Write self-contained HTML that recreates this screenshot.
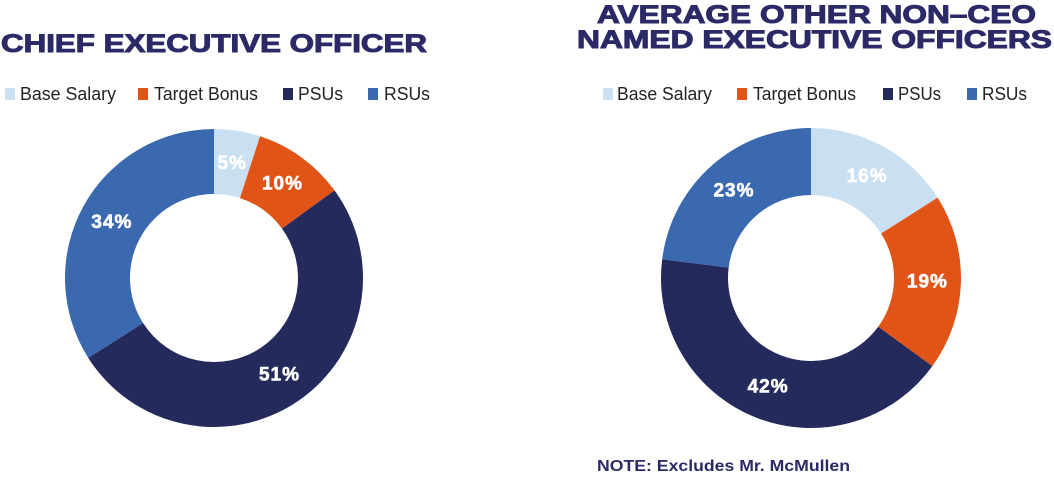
<!DOCTYPE html>
<html><head><meta charset="utf-8"><style>
body{margin:0;background:#fff;}
svg{display:block;font-family:"Liberation Sans",Arial,sans-serif;}
</style></head><body>
<svg width="1054" height="478" viewBox="0 0 1054 478">
<g id="titles" fill="#2b2a66" font-weight="900">
<text x="1" y="52" font-size="25" textLength="426" lengthAdjust="spacingAndGlyphs" stroke="#2b2a66" stroke-width="1">CHIEF EXECUTIVE OFFICER</text>
<text x="597" y="23" font-size="25" textLength="439" lengthAdjust="spacingAndGlyphs" stroke="#2b2a66" stroke-width="1">AVERAGE OTHER NON–CEO</text>
<text x="577" y="48" font-size="25" textLength="475" lengthAdjust="spacingAndGlyphs" stroke="#2b2a66" stroke-width="1">NAMED EXECUTIVE OFFICERS</text>
<text x="597" y="471" font-size="16" font-weight="bold" textLength="253" lengthAdjust="spacingAndGlyphs">NOTE: Excludes Mr. McMullen</text>
</g>
<g id="legends"></g>
<g id="donuts"></g>
</svg>
<script>
const categories = ["Base Salary","Target Bonus","PSUs","RSUs"];
const colors = ["#c9dff2","#e05418","#252a5c","#3b69b0"];
const ceoValues = [5,10,51,34];
const neoValues = [16,19,42,23];
const legendText = [[20,154,298,384],[617,753,898,982]];
const legendW = [[96,104,45,46],[95,103,43,45]];
const legendSq = [[5,138,283,368],[603,737,883,967]];
const NS="http://www.w3.org/2000/svg";
function mk(tag,attrs,parent){const e=document.createElementNS(NS,tag);for(const k in attrs)e.setAttribute(k,attrs[k]);parent.appendChild(e);return e;}
const lg=document.getElementById('legends');
['ceo','neo'].forEach((who,li)=>{
  categories.forEach((c,i)=>{
    const r=mk('rect',{x:legendSq[li][i],y:88,width:10,height:12,fill:colors[i]},lg);
    
    
    const t=mk('text',{x:legendText[li][i],y:100,'font-size':18,fill:'#222',textLength:legendW[li][i],lengthAdjust:'spacingAndGlyphs'},lg);
    t.textContent=c;
    
    
  });
});
const dg=document.getElementById('donuts');
function donut(vals,cx,cy,R,r,who){
  const total=vals.reduce((a,b)=>a+b,0);
  let a0=0;
  vals.forEach((v,i)=>{
    const a1=a0+v/total*2*Math.PI;
    const p=(a,rad)=>[cx+rad*Math.sin(a),cy-rad*Math.cos(a)];
    const [x0,y0]=p(a0,R),[x1,y1]=p(a1,R),[x2,y2]=p(a1,r),[x3,y3]=p(a0,r);
    const lf=(a1-a0)>Math.PI?1:0;
    const path=mk('path',{d:`M${x0},${y0}A${R},${R} 0 ${lf} 1 ${x1},${y1}L${x2},${y2}A${r},${r} 0 ${lf} 0 ${x3},${y3}Z`,fill:colors[i]},dg);
    
    
    const am=(a0+a1)/2;const [lx,ly]=p(am,(R+r)/2);
    const t=mk('text',{x:lx,y:ly+6,'text-anchor':'middle','font-size':19,'font-weight':'900',fill:'#fff',stroke:'#fff','stroke-width':0.6,'letter-spacing':1},dg);
    t.textContent=v+'%';
    
    
    a0=a1;
  });
}
donut(ceoValues,214,278,149,84,'ceo');
donut(neoValues,811,278,150,83,'neo');
</script>
</body></html>
